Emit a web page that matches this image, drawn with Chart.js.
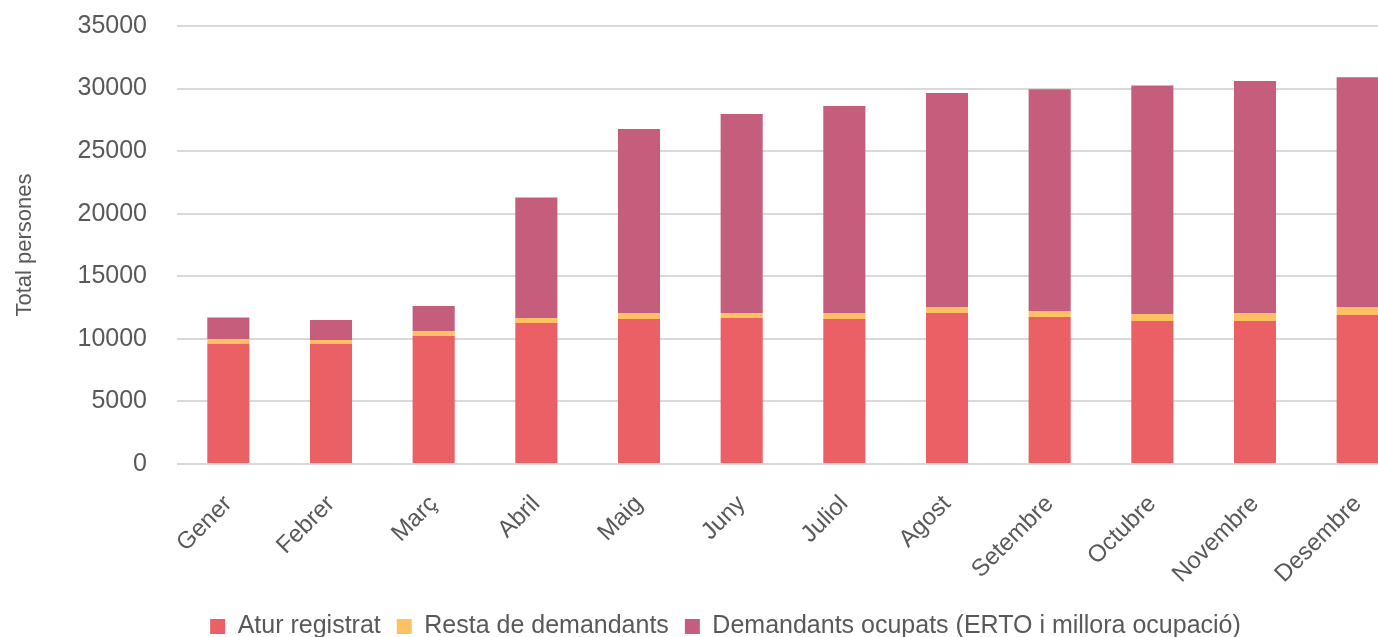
<!DOCTYPE html>
<html>
<head>
<meta charset="utf-8">
<script src="https://cdn.jsdelivr.net/npm/chart.js@4/dist/chart.umd.min.js"></script>
<style>
    html, body { margin: 0; padding: 0; background: #fff; overflow: hidden; }
    #wrap { position: relative; top: -19px; width: 1450px; height: 668px; }
</style>
</head>
<body>
<div id="wrap"><canvas id="chart"></canvas></div>
<script>
// Months on the x axis
const months = ['Gener', 'Febrer', 'Març', 'Abril', 'Maig', 'Juny', 'Juliol', 'Agost', 'Setembre', 'Octubre', 'Novembre', 'Desembre'];

// Series values (persons)
const aturRegistrat = [9600, 9600, 10220, 11260, 11590, 11670, 11590, 12060, 11750, 11430, 11430, 11910];
const restaDemandants = [380, 300, 400, 400, 470, 390, 470, 480, 470, 560, 630, 630];
const demandantsOcupats = [1720, 1600, 2010, 9630, 14700, 15900, 16540, 17100, 17730, 18260, 18540, 18360];

// Y axis ticks
const yMax = 35000;
const yStep = 5000;

const textColor = '#595959';
const gridColor = '#d9d9d9';
const fontFamily = 'Liberation Sans, Arial, sans-serif';

// nudge the legend so it sits centred like the original
const legendShift = {
    id: 'legendShift',
    afterLayout: function(chart) {
        if (chart.legend) {
            chart.legend.left += 42;
        }
    }
};

const ctx = document.getElementById('chart');

new Chart(ctx, {
    type: 'bar',
    data: {
        labels: months,
        datasets: [
            {
                label: 'Atur registrat',
                data: aturRegistrat,
                backgroundColor: '#eb6064'
            },
            {
                label: 'Resta de demandants',
                data: restaDemandants,
                backgroundColor: '#fbc162'
            },
            {
                label: 'Demandants ocupats (ERTO i millora ocupació)',
                data: demandantsOcupats,
                backgroundColor: '#c45e7c'
            }
        ]
    },
    plugins: [legendShift],
    options: {
        responsive: true,
        maintainAspectRatio: false,
        animation: false,
        layout: {
            padding: { top: 0, right: 41, left: 0, bottom: 0 }
        },
        datasets: {
            bar: {
                categoryPercentage: 1,
                barPercentage: 0.41
            }
        },
        plugins: {
            tooltip: { enabled: false },
            legend: {
                position: 'bottom',
                labels: {
                    color: textColor,
                    boxWidth: 15,
                    boxHeight: 15,
                    padding: 16,
                    font: { family: fontFamily, size: 25 }
                }
            }
        },
        scales: {
            x: {
                stacked: true,
                grid: { display: false, drawTicks: false },
                border: { display: false },
                ticks: {
                    color: textColor,
                    minRotation: 45,
                    maxRotation: 45,
                    padding: 26,
                    font: { family: fontFamily, size: 24 }
                },
                afterFit: function(scale) {
                    scale.height = 134;
                }
            },
            y: {
                stacked: true,
                min: 0,
                max: yMax,
                ticks: {
                    stepSize: yStep,
                    color: textColor,
                    padding: 30,
                    font: { family: fontFamily, size: 25 },
                    callback: function(value) {
                        return String(value);
                    }
                },
                grid: { color: gridColor, lineWidth: 2, drawTicks: false },
                border: { display: false },
                title: {
                    display: true,
                    text: 'Total persones',
                    color: textColor,
                    padding: { top: 12, bottom: 0 },
                    font: { family: fontFamily, size: 22 }
                },
                afterFit: function(scale) {
                    scale.width = 177;
                }
            }
        }
    }
});
</script>
</body>
</html>
